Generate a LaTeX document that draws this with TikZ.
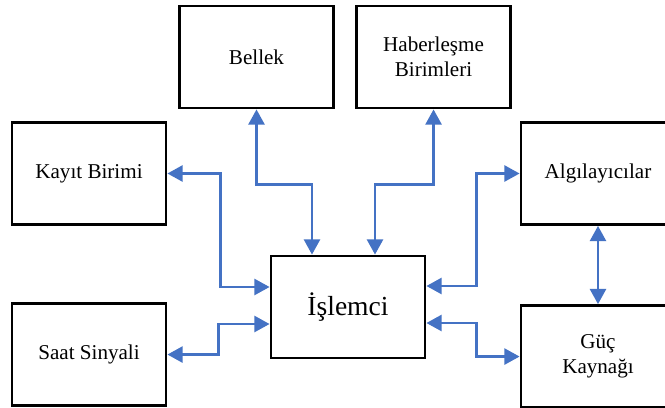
\documentclass[tikz,border=0pt]{standalone}
\usepackage{fontspec}
\setmainfont{Liberation Serif}
\usepackage{xcolor}
\usepackage{tikz}
\usetikzlibrary{arrows.meta}

\definecolor{linkblue}{RGB}{68,114,196}

\begin{document}
\begin{tikzpicture}[x=0.025cm, y=-0.025cm,
    every node/.style={font=\fontsize{15}{17.8}\selectfont},
    unit/.style={draw, line width=2pt, minimum width=3.85cm, minimum height=2.55cm, align=center, inner sep=0pt},
    link/.style={draw=linkblue, line width=1.8pt,
      {Triangle[length=0.38cm,width=0.4cm]}-{Triangle[length=0.38cm,width=0.4cm]}}]
  \clip (0,0) rectangle (665,408);
  \fill[white] (0,0) rectangle (665,408);
  \node[unit, font=\fontsize{19.6}{23}\selectfont] (islemci) at (348,307) {İşlemci};
  \node[unit] (bellek) at (256.5,57) {Bellek};
  \node[unit, right of=bellek, node distance=4.425cm] (haber) {Haberleşme\\Birimleri};
  \node[unit] (kayit) at (89,173.5) {Kayıt Birimi};
  \node[unit, below of=kayit, node distance=4.525cm] (saat) {Saat Sinyali};
  \node[unit] (algi) at (598,173.5) {Algılayıcılar};
  \node[unit, below of=algi, node distance=4.575cm] (guc) {Güç\\Kaynağı};
  \draw[link] (bellek.south) -- ++(0,75) -| ([xshift=-0.9cm]islemci.north);
  \draw[link] (haber.south) -- ++(0,75) -| ([xshift=0.675cm]islemci.north);
  \draw[link] (kayit.east) -- ++(53,0) |- ([yshift=0.5cm]islemci.west);
  \draw[link] (saat.east) -- ++(51,0) |- ([yshift=-0.425cm]islemci.west);
  \draw[link] ([yshift=0.525cm]islemci.east) -- ++(50,0) |- (algi.west);
  \draw[link] ([yshift=-0.4cm]islemci.east) -- ++(50,0) |- (guc.west);
  \draw[link] (algi.south) -- (guc.north);
\end{tikzpicture}
\end{document}
